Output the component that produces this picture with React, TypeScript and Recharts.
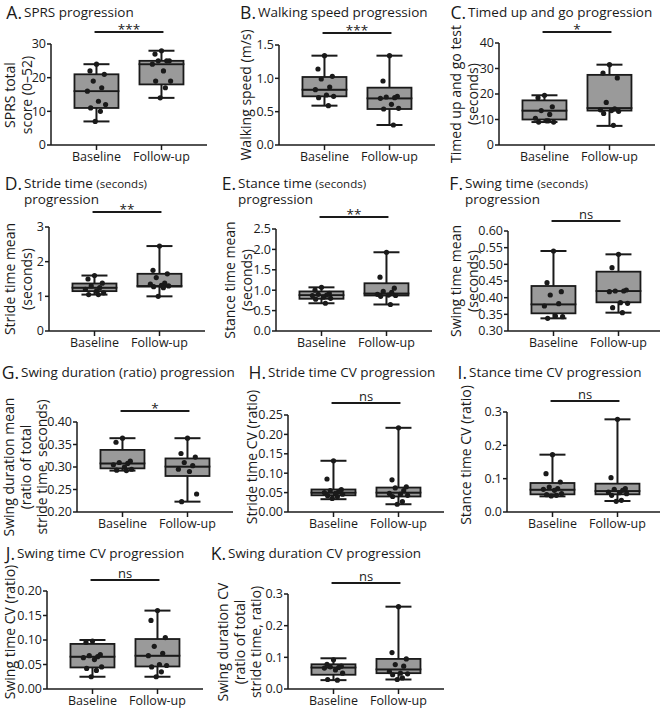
import React from 'react';
import { ComposedChart, Bar, Scatter, XAxis, YAxis, ReferenceLine } from 'recharts';

const GROUPS = ['Baseline', 'Follow-up'];

// box stats per group: [min, q1, median, q3, max]
const sprsBox = [[7, 11, 16, 21, 24], [14, 18, 24, 25, 28]];
const sprsPts = [[24, 22, 21, 19, 17, 16, 13, 12, 11, 10, 7], [28, 27, 25, 25, 25, 24, 22, 19, 19, 17, 14]];

const speedBox = [[0.59, 0.73, 0.83, 1.02, 1.34], [0.3, 0.54, 0.7, 0.86, 1.34]];
const speedPts = [[1.34, 1.14, 1.03, 0.99, 0.87, 0.83, 0.75, 0.73, 0.71, 0.59], [1.34, 0.96, 0.73, 0.72, 0.71, 0.7, 0.61, 0.55, 0.54, 0.3]];

const tugBox = [[9, 10, 13.5, 17.5, 19.5], [7.5, 13.5, 14.5, 27.5, 31.5]];
const tugPts = [[19.5, 18.5, 15, 13.5, 12, 10.5, 9.5, 9, 9, 9.5], [31.5, 28.2, 26.3, 16.7, 14.2, 13.8, 13.5, 13.2, 12.4, 7.7]];

const strideBox = [[1.05, 1.15, 1.25, 1.37, 1.6], [1.0, 1.28, 1.3, 1.65, 2.45]];
const stridePts = [[1.6, 1.5, 1.38, 1.3, 1.25, 1.2, 1.15, 1.1, 1.05, 1.05], [2.45, 1.75, 1.65, 1.54, 1.38, 1.35, 1.32, 1.3, 1.28, 1.25, 1.0]];

const stanceBox = [[0.68, 0.79, 0.88, 0.97, 1.07], [0.65, 0.87, 0.92, 1.17, 1.93]];
const stancePts = [[1.07, 1.0, 0.92, 0.9, 0.88, 0.87, 0.83, 0.8, 0.78, 0.68], [1.93, 1.32, 1.05, 0.97, 0.95, 0.9, 0.88, 0.87, 0.85, 0.65]];

const swingBox = [[0.338, 0.353, 0.38, 0.435, 0.54], [0.355, 0.386, 0.42, 0.478, 0.53]];
const swingPts = [[0.54, 0.445, 0.418, 0.408, 0.382, 0.375, 0.345, 0.343, 0.338], [0.53, 0.49, 0.423, 0.42, 0.42, 0.418, 0.385, 0.383, 0.37, 0.355]];

const swingDurBox = [[0.292, 0.297, 0.308, 0.338, 0.364], [0.223, 0.28, 0.301, 0.319, 0.364]];
const swingDurPts = [[0.364, 0.355, 0.313, 0.31, 0.308, 0.305, 0.3, 0.295, 0.293, 0.292], [0.364, 0.33, 0.322, 0.31, 0.303, 0.295, 0.29, 0.24, 0.223]];

const strideCvBox = [[0.033, 0.043, 0.05, 0.058, 0.132], [0.02, 0.04, 0.05, 0.063, 0.217]];
const strideCvPts = [[0.132, 0.085, 0.058, 0.055, 0.053, 0.05, 0.048, 0.046, 0.042, 0.04, 0.035], [0.217, 0.083, 0.065, 0.062, 0.055, 0.048, 0.046, 0.043, 0.04, 0.027, 0.02]];

const stanceCvBox = [[0.047, 0.053, 0.067, 0.087, 0.172], [0.033, 0.053, 0.063, 0.085, 0.278]];
const stanceCvPts = [[0.172, 0.115, 0.09, 0.075, 0.07, 0.068, 0.065, 0.055, 0.052, 0.05, 0.048], [0.278, 0.103, 0.07, 0.068, 0.065, 0.06, 0.058, 0.055, 0.05, 0.035, 0.032]];

const swingCvBox = [[0.025, 0.044, 0.066, 0.092, 0.1], [0.025, 0.046, 0.068, 0.102, 0.16]];
const swingCvPts = [[0.098, 0.095, 0.07, 0.068, 0.066, 0.064, 0.06, 0.045, 0.042, 0.038, 0.025], [0.16, 0.14, 0.105, 0.087, 0.073, 0.068, 0.05, 0.048, 0.045, 0.035, 0.025]];

const swingDurCvBox = [[0.028, 0.045, 0.068, 0.078, 0.097], [0.03, 0.05, 0.062, 0.095, 0.26]];
const swingDurCvPts = [[0.092, 0.078, 0.072, 0.07, 0.068, 0.066, 0.06, 0.05, 0.03, 0.028], [0.26, 0.115, 0.095, 0.077, 0.072, 0.055, 0.05, 0.048, 0.045, 0.035, 0.03]];

// horizontal spread of the dots around each group centre (x units)
const JITTER = [0, -0.1, 0.12, -0.05, 0.08, -0.14, 0.03, 0.14, -0.09, 0.06, -0.02];

const INK = '#1a1a1a';
const BOX_FILL = '#9a9a9a';
const FONT = "'Open Sans', sans-serif";
const PLOT_W = 156;
const YAXIS_W = 50;
const M_TOP = 30;
const XAXIS_H = 28;
const BAR_W = 44;
const CAP_W = 26;

type Panel = {
  letter: string; title: string; small?: string; title2?: string;
  box: number[][]; pts: number[][];
  domain: [number, number]; ticks: number[]; dec: number; sig: string;
  yLabel: string[];
  axisX: number; top: number; bottom: number;
  textX: number; titleY: number; labelX: number; labelY?: number; sigPx: number;
};

const panels: Panel[] = [
  { letter: 'A.', title: 'SPRS progression', box: sprsBox, pts: sprsPts, domain: [0, 30], ticks: [0, 10, 20, 30], dec: 0, sig: '***',
    yLabel: ['SPRS total', 'score (0\u201352)'], axisX: 51, top: 44, bottom: 145, textX: 24, titleY: 12, labelX: 18, sigPx: 12 },
  { letter: 'B.', title: 'Walking speed progression', box: speedBox, pts: speedPts, domain: [0, 1.5], ticks: [0, 0.5, 1, 1.5], dec: 1, sig: '***',
    yLabel: ['Walking speed (m/s)'], axisX: 279, top: 45, bottom: 145, textX: 258, titleY: 12, labelX: 246, sigPx: 12 },
  { letter: 'C.', title: 'Timed up and go progression', box: tugBox, pts: tugPts, domain: [0, 40], ticks: [0, 10, 20, 30, 40], dec: 0, sig: '*',
    yLabel: ['Timed up and go test', '(seconds)'], axisX: 499, top: 43, bottom: 145, textX: 468, titleY: 12, labelX: 464, sigPx: 11 },
  { letter: 'D.', title: 'Stride time ', small: '(seconds)', title2: 'progression', box: strideBox, pts: stridePts, domain: [0, 3], ticks: [0, 1, 2, 3], dec: 0, sig: '**',
    yLabel: ['Stride time mean', '(seconds)'], axisX: 49, top: 227, bottom: 331, textX: 24, titleY: 183, labelX: 18, sigPx: 15 },
  { letter: 'E.', title: 'Stance time ', small: '(seconds)', title2: 'progression', box: stanceBox, pts: stancePts, domain: [0, 2.5], ticks: [0, 0.5, 1, 1.5, 2, 2.5], dec: 1, sig: '**',
    yLabel: ['Stance time mean', '(seconds)'], axisX: 276, top: 229, bottom: 331, textX: 238, titleY: 183, labelX: 238, sigPx: 12 },
  { letter: 'F.', title: 'Swing time ', small: '(seconds)', title2: 'progression', box: swingBox, pts: swingPts, domain: [0.3, 0.6], ticks: [0.3, 0.35, 0.4, 0.45, 0.5, 0.55, 0.6], dec: 2, sig: 'ns',
    yLabel: ['Swing time mean', '(seconds)'], axisX: 508, top: 231, bottom: 331, textX: 465, titleY: 183, labelX: 464, sigPx: 10 },
  { letter: 'G.', title: 'Swing duration (ratio) progression', box: swingDurBox, pts: swingDurPts, domain: [0.2, 0.4], ticks: [0.2, 0.25, 0.3, 0.35, 0.4], dec: 2, sig: '*',
    yLabel: ['Swing duration mean', '(ratio of total', 'stride time, seconds)'], axisX: 77, top: 422, bottom: 512, textX: 21, titleY: 372, labelX: 26, sigPx: 11 },
  { letter: 'H.', title: 'Stride time CV progression', box: strideCvBox, pts: strideCvPts, domain: [0, 0.25], ticks: [0, 0.05, 0.1, 0.15, 0.2, 0.25], dec: 2, sig: 'ns',
    yLabel: ['Stride time CV (ratio)'], axisX: 288, top: 415, bottom: 512, textX: 268, titleY: 372, labelX: 252, labelY: 457, sigPx: 12 },
  { letter: 'I.', title: 'Stance time CV progression', box: stanceCvBox, pts: stanceCvPts, domain: [0, 0.3], ticks: [0, 0.1, 0.2, 0.3], dec: 1, sig: 'ns',
    yLabel: ['Stance time CV (ratio)'], axisX: 507, top: 412, bottom: 512, textX: 469, titleY: 372, labelX: 466, labelY: 455, sigPx: 11 },
  { letter: 'J.', title: 'Swing time CV progression', box: swingCvBox, pts: swingCvPts, domain: [0, 0.2], ticks: [0, 0.05, 0.1, 0.15, 0.2], dec: 2, sig: 'ns',
    yLabel: ['Swing time CV (ratio)'], axisX: 47, top: 591, bottom: 689, textX: 17, titleY: 553, labelX: 10, labelY: 632, sigPx: 11 },
  { letter: 'K.', title: 'Swing duration CV progression', box: swingDurCvBox, pts: swingDurCvPts, domain: [0, 0.3], ticks: [0, 0.1, 0.2, 0.3], dec: 1, sig: 'ns',
    yLabel: ['Swing duration CV', '(ratio of total', 'stride time, ratio)'], axisX: 288, top: 594, bottom: 689, textX: 228, titleY: 553, labelX: 240, sigPx: 11 },
];

const Nothing = () => <g />;

// bar width from the library can come out as 0 on a number axis, so draw with a fixed width round the centre
const centre = (p: any) => p.x + (p.width || 0) / 2;

const WhiskerLow = (p: any) => {
  const cx = centre(p);
  const b = p.y + p.height;
  return (
    <g>
      <line x1={cx} x2={cx} y1={p.y} y2={b} stroke={INK} strokeWidth={2} />
      <line x1={cx - CAP_W / 2} x2={cx + CAP_W / 2} y1={b} y2={b} stroke={INK} strokeWidth={2} />
    </g>
  );
};

const WhiskerHigh = (p: any) => {
  const cx = centre(p);
  return (
    <g>
      <line x1={cx} x2={cx} y1={p.y} y2={p.y + p.height} stroke={INK} strokeWidth={2} />
      <line x1={cx - CAP_W / 2} x2={cx + CAP_W / 2} y1={p.y} y2={p.y} stroke={INK} strokeWidth={2} />
    </g>
  );
};

const BoxPart = (p: any) => (
  <rect x={centre(p) - BAR_W / 2} y={p.y} width={BAR_W} height={Math.max(p.height, 0)} fill={BOX_FILL} stroke={INK} strokeWidth={1.8} />
);

const Dot = (p: any) => <circle cx={p.cx} cy={p.cy} r={2.6} fill={INK} />;

function BoxPanel({ p }: { p: Panel }) {
  const rows = p.box.map((b, g) => ({
    x: g + 1, base: b[0], lw: b[1] - b[0], lb: b[2] - b[1], ub: b[3] - b[2], uw: b[4] - b[3],
  }));
  const dots = p.pts.flatMap((arr, g) => arr.map((v, i) => ({ x: g + 1 + JITTER[i % JITTER.length], y: v })));
  const h = p.bottom - p.top;
  const sigY = p.domain[1] + (p.sigPx / h) * (p.domain[1] - p.domain[0]);
  const tickStyle = { fill: INK, fontSize: 12.5, fontFamily: FONT };
  const stars = p.sig !== 'ns';
  return (
    <div style={{ position: 'absolute', left: p.axisX - YAXIS_W, top: p.top - M_TOP }}>
      <ComposedChart width={YAXIS_W + PLOT_W + 4} height={M_TOP + h + XAXIS_H} data={rows}
        margin={{ top: M_TOP, right: 4, bottom: 0, left: 0 }}>
        <XAxis type="number" dataKey="x" domain={[0.3, 2.7]} ticks={[1, 2]} allowDataOverflow interval={0}
          tickFormatter={(v: number) => GROUPS[v - 1]} height={XAXIS_H} tick={tickStyle}
          axisLine={{ stroke: INK, strokeWidth: 1.5 }} tickLine={{ stroke: INK, strokeWidth: 1.5 }} tickSize={5} />
        <YAxis type="number" domain={p.domain} ticks={p.ticks} allowDataOverflow interval={0} width={YAXIS_W}
          tickFormatter={(v: number) => v.toFixed(p.dec)} tick={tickStyle} tickMargin={1}
          axisLine={{ stroke: INK, strokeWidth: 1.5 }} tickLine={{ stroke: INK, strokeWidth: 1.5 }} tickSize={4} />
        <Bar dataKey="base" stackId="b" barSize={BAR_W} shape={Nothing} isAnimationActive={false} />
        <Bar dataKey="lw" stackId="b" barSize={BAR_W} shape={WhiskerLow} isAnimationActive={false} />
        <Bar dataKey="lb" stackId="b" barSize={BAR_W} shape={BoxPart} isAnimationActive={false} />
        <Bar dataKey="ub" stackId="b" barSize={BAR_W} shape={BoxPart} isAnimationActive={false} />
        <Bar dataKey="uw" stackId="b" barSize={BAR_W} shape={WhiskerHigh} isAnimationActive={false} />
        <Scatter data={dots} dataKey="y" shape={Dot} isAnimationActive={false} />
        <ReferenceLine segment={[{ x: 0.97, y: sigY }, { x: 2.03, y: sigY }]} ifOverflow="visible"
          stroke={INK} strokeWidth={2}
          label={{ value: p.sig, position: 'top', fill: INK, fontSize: stars ? 13.5 : 13, fontFamily: FONT, offset: stars ? -2 : 2 }} />
      </ComposedChart>
    </div>
  );
}

function Title({ p }: { p: Panel }) {
  const base: React.CSSProperties = { position: 'absolute', whiteSpace: 'nowrap', color: INK, fontFamily: FONT };
  return (
    <>
      <div style={{ ...base, left: p.textX - 2, top: p.titleY - 9, fontSize: 17.5, lineHeight: '18px', transform: 'translateX(-100%)' }}>{p.letter}</div>
      <div style={{ ...base, left: p.textX, top: p.titleY - 7.5, fontSize: 13.5, lineHeight: '15px' }}>
        {p.title}{p.small && <span style={{ fontSize: 11.5 }}>{p.small}</span>}
      </div>
      {p.title2 && <div style={{ ...base, left: p.textX, top: p.titleY + 9, fontSize: 13.5, lineHeight: '15px' }}>{p.title2}</div>}
    </>
  );
}

function YLabel({ p }: { p: Panel }) {
  return (
    <div style={{
      position: 'absolute', left: p.labelX, top: p.labelY ?? (p.top + p.bottom) / 2,
      transform: 'translate(-50%, -50%) rotate(-90deg)', whiteSpace: 'pre', textAlign: 'center',
      fontFamily: FONT, fontSize: 14, lineHeight: '16.5px', color: INK,
    }}>{p.yLabel.join('\n')}</div>
  );
}

export default function App() {
  return (
    <div style={{ position: 'absolute', left: 0, top: 0, width: 660, height: 708, overflow: 'hidden', background: '#fff' }}>
      {panels.map((p) => (
        <React.Fragment key={p.letter}>
          <Title p={p} />
          <YLabel p={p} />
          <BoxPanel p={p} />
        </React.Fragment>
      ))}
    </div>
  );
}
